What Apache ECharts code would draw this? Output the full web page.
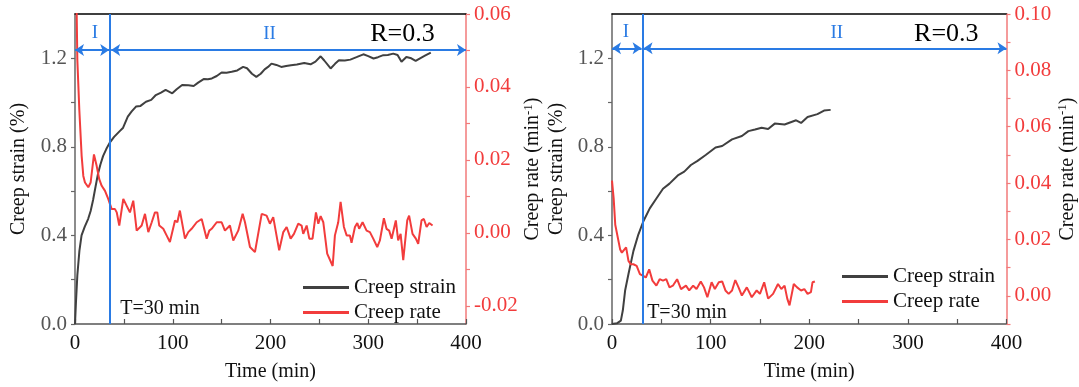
<!DOCTYPE html>
<html><head><meta charset="utf-8">
<script src="https://cdn.jsdelivr.net/npm/echarts@6/dist/echarts.min.js"></script>
<style>html,body{margin:0;padding:0;background:#fff}#c{width:1079px;height:387px}</style>
</head><body><div id="c"></div><script>
// ---------- data ----------
const xTickVals = [0, 50, 100, 150, 200, 250, 300, 350, 400];
const xLabelVals = [0, 100, 200, 300, 400];
const strainLabelVals = [0, 0.4, 0.8, 1.2];
const strainTickVals = [0, 0.2, 0.4, 0.6, 0.8, 1.0, 1.2];
const leftRateLabelVals = [-0.02, 0, 0.02, 0.04, 0.06];
const leftRateTickVals = [-0.02, -0.01, 0, 0.01, 0.02, 0.03, 0.04, 0.05, 0.06];
const rightRateLabelVals = [0, 0.02, 0.04, 0.06, 0.08, 0.10];
const rightRateTickVals = [-0.01, 0, 0.01, 0.02, 0.03, 0.04, 0.05, 0.06, 0.07, 0.08, 0.09, 0.10];

const leftStrain = [[0,0],[1,0.10],[2.4,0.22],[4.5,0.33],[6.7,0.40],[10,0.44],[13.5,0.475],[16,0.51],[18.5,0.56],[21,0.62],[23.6,0.68],[26,0.72],[28.7,0.758],[32,0.79],[35.4,0.818],[40,0.845],[45.5,0.87],[49,0.885],[54,0.937],[58,0.96],[62.4,0.982],[67,0.985],[72.6,1.004],[78,1.012],[82.7,1.034],[88,1.045],[92.7,1.057],[99.5,1.042],[104,1.06],[109.6,1.079],[116,1.078],[121.4,1.075],[126,1.09],[131.6,1.106],[136,1.105],[140,1.109],[145,1.12],[150,1.136],[155,1.135],[160.3,1.139],[166,1.145],[172,1.161],[176,1.155],[181,1.13],[185.5,1.116],[190,1.13],[194,1.15],[197.5,1.161],[201,1.176],[206,1.17],[211,1.161],[216,1.165],[221,1.169],[227,1.172],[234.5,1.179],[241,1.173],[246,1.185],[251.3,1.209],[255,1.19],[261.5,1.154],[266,1.175],[270,1.191],[276,1.19],[281.7,1.194],[288,1.205],[295,1.218],[300,1.21],[305.4,1.199],[310,1.205],[315.4,1.214],[320,1.215],[325.6,1.221],[330,1.215],[334,1.184],[339,1.206],[344,1.2],[348.5,1.188],[353,1.2],[358,1.212],[364,1.226]];

const leftRate = [[0,0.095],[1.2,0.07],[2.4,0.0474],[4.4,0.0338],[6.8,0.0211],[8.5,0.0156],[10.2,0.0138],[11.9,0.0143],[13.6,0.0125],[16,0.0138],[19.4,0.0215],[22.2,0.0183],[24.8,0.0147],[27.3,0.0129],[30.7,0.0115],[34,0.0093],[37.5,0.0065],[40.9,0.0065],[42.7,0.0056],[45.3,0.002],[49.4,0.0093],[52.9,0.0074],[56.2,0.0056],[59.6,0.0088],[63.1,0.0006],[68.2,0.002],[71.6,0.0052],[75,0.0002],[78.5,0.0029],[81.8,0.0056],[84.2,0.0056],[86.2,0.002],[90.3,0.0011],[93.7,-0.0007],[97.1,-0.0025],[102.3,0.0034],[104.7,0.0029],[107.3,0.0061],[112.5,-0.0016],[115.9,0.0002],[119.3,0.0011],[124.5,0.0029],[129.6,0.0038],[134.7,-0.0016],[137.4,0.0006],[139.8,0.0011],[145,0.0029],[150,0.0029],[153.4,0.0006],[158.5,0.002],[161.9,-0.0021],[167,0.0006],[171.5,0.0052],[173.9,0.0029],[179,-0.0039],[184.1,-0.0053],[191,0.0052],[196,0.0047],[199.4,0.0025],[202.8,0.0043],[208.9,-0.0048],[213.1,0.0002],[216.5,0.0016],[220.6,-0.0016],[224,-0.0003],[228.4,0.0025],[231.8,0.002],[233.5,-0.0003],[237,0.002],[239.7,-0.0016],[243,-0.0016],[246.5,0.0056],[248.9,0.0025],[251.3,0.0046],[254,0.0029],[258,-0.0057],[263.6,-0.0091],[265.9,-0.0007],[269.3,0.0029],[271.7,0.0085],[275.1,0.0016],[277.9,-0.0007],[281.2,-0.0007],[282.9,-0.0027],[286.4,0.0016],[288.8,0.0027],[290.7,0.0011],[294.2,0.0029],[298.3,0.0006],[301.7,0.0002],[305.1,-0.0016],[309.2,-0.0039],[311.9,-0.0021],[316,0.004],[318.7,0.0011],[321.4,0.0006],[323.9,-0.0016],[328.2,0.0034],[330.6,-0.0021],[333.1,-0.0003],[335.8,-0.0075],[337.5,-0.0075],[339.9,0.0034],[341.8,0.0047],[345.3,-0.0003],[348.7,-0.0016],[351.1,-0.003],[354.5,0.0034],[356.9,0.0038],[359.7,0.0016],[362.4,0.0027],[365.8,0.002]];

const rightStrain = [[0,0],[5,0.003],[9,0.015],[11,0.062],[13.3,0.151],[16.7,0.226],[21.7,0.329],[26.7,0.404],[31.7,0.463],[38.3,0.522],[45,0.567],[51.7,0.611],[58.3,0.634],[66.7,0.671],[73.3,0.688],[80,0.718],[86.7,0.737],[95,0.763],[105,0.797],[111.7,0.804],[121.7,0.834],[131.7,0.849],[138.3,0.871],[145,0.878],[151.7,0.886],[158.3,0.881],[165,0.905],[175,0.901],[186.7,0.92],[191.7,0.908],[198.3,0.935],[208.3,0.948],[215,0.964],[221.7,0.967]];

const rightRate = [[0,0.0409],[1.7,0.0345],[3.3,0.0252],[5,0.0246],[8.3,0.0164],[10,0.0153],[12,0.0153],[14.3,0.0172],[16.7,0.0124],[19,0.0112],[21.7,0.0112],[25,0.0106],[28.3,0.0077],[31.7,0.0071],[34.3,0.0065],[37.7,0.0094],[41,0.0054],[45,0.0036],[48.3,0.0059],[51.7,0.0054],[55,0.0059],[58.3,0.003],[61.7,0.0036],[66,0.0059],[70,0.0024],[75,0.0036],[78.3,0.0019],[82.3,0.0036],[85.7,0.0024],[90,0.0051],[93.3,0.003],[96.7,-0.0005],[101,0.0048],[104.3,0.0024],[108.3,0.0048],[111.7,0.0051],[115,0.0019],[118.3,0.0007],[121.7,0.0019],[125,0.0056],[128.3,0.003],[131.7,0.0001],[136.7,0.003],[141.7,-0.0005],[146.7,0.0019],[150,0.0007],[154.3,0.0048],[158.3,-0.001],[163.3,0.0007],[168.3,0.0042],[171.7,0.0024],[175,0.0036],[177.7,-0.001],[180,-0.0034],[184.3,0.0042],[187.7,0.003],[191.7,0.0019],[195,0.0024],[198.3,0.0007],[201.7,0.0013],[203.3,0.0048],[205.7,0.0051]];

// ---------- style ----------
const FONT = 'Liberation Serif';
const BLUE = '#2a7be4';
const RED = '#f23c3c';
const DARK = '#404040';

function xBottom(g) {
  return {
    type: 'value', gridIndex: g, min: 0, max: 400, position: 'bottom',
    axisLine: { show: true, onZero: false, lineStyle: { color: '#555', width: 1.5 } },
    axisTick: { show: true, inside: true, length: 5, customValues: xTickVals, lineStyle: { color: '#555', width: 1.2 } },
    axisLabel: { customValues: xLabelVals, color: '#111', fontFamily: FONT, fontSize: 21, margin: 9 },
    splitLine: { show: false },
    name: 'Time (min)', nameLocation: 'middle', nameGap: 38,
    nameTextStyle: { color: '#111', fontFamily: FONT, fontSize: 20 }
  };
}
function xTop(g) {
  return {
    type: 'value', gridIndex: g, min: 0, max: 400, position: 'top',
    axisLine: { show: true, onZero: false, lineStyle: { color: '#000', width: 1.5 } },
    axisTick: { show: false }, axisLabel: { show: false }, splitLine: { show: false }
  };
}
function yStrain(g, gap) {
  return {
    type: 'value', gridIndex: g, min: 0, max: 1.4, position: 'left',
    axisLine: { show: true, onZero: false, lineStyle: { color: '#666', width: 1.5 } },
    axisTick: { show: true, inside: false, length: 4, customValues: strainTickVals, lineStyle: { color: '#666', width: 1.2 } },
    axisLabel: { customValues: strainLabelVals, formatter: v => v.toFixed(1), color: '#555', fontFamily: FONT, fontSize: 21, margin: 8 },
    splitLine: { show: false },
    name: 'Creep strain (%)', nameLocation: 'middle', nameRotate: 90, nameGap: gap,
    nameTextStyle: { color: '#111', fontFamily: FONT, fontSize: 20 }
  };
}
function yRate(g, min, max, labels, ticks, gap) {
  return {
    type: 'value', gridIndex: g, min: min, max: max, position: 'right',
    axisLine: { show: true, onZero: false, lineStyle: { color: '#f27a7a', width: 1.5 } },
    axisTick: { show: true, inside: false, length: 4, customValues: ticks, lineStyle: { color: '#f27a7a', width: 1.2 } },
    axisLabel: { customValues: labels, formatter: v => v.toFixed(2), color: RED, fontFamily: FONT, fontSize: 21, margin: 8 },
    splitLine: { show: false },
    name: 'Creep rate (min{sup|-1})', nameLocation: 'middle', nameRotate: 90, nameGap: gap,
    nameTextStyle: { color: '#111', fontFamily: FONT, fontSize: 20,
      rich: { sup: { fontFamily: FONT, fontSize: 13, color: '#111', verticalAlign: 'top', padding: [0, 0, 10, 0] } } }
  };
}
function txt(name, coord, size, color) {
  return { name: name, coord: coord,
    label: { show: true, position: 'inside', formatter: '{b}', fontFamily: FONT, fontSize: size, color: color } };
}
function strainSeries(xi, yi, data, tBlue, arrowY, marks) {
  return {
    name: 'Creep strain', type: 'line', xAxisIndex: xi, yAxisIndex: yi, data: data,
    symbol: 'none', showSymbol: false, clip: true,
    lineStyle: { color: DARK, width: 2 }, itemStyle: { color: DARK },
    markLine: {
      silent: true, animation: false, symbol: ['arrow', 'arrow'], symbolSize: 9,
      lineStyle: { color: BLUE, width: 2, type: 'solid' }, label: { show: false },
      data: [
        [{ coord: [0, arrowY] }, { coord: [tBlue - 1, arrowY] }],
        [{ coord: [tBlue + 1, arrowY] }, { coord: [400, arrowY] }]
      ]
    },
    markPoint: {
      silent: true, animation: false, symbol: 'rect', symbolSize: 1,
      itemStyle: { color: 'rgba(0,0,0,0)' },
      data: marks
    }
  };
}
function rateSeries(xi, yi, data, tBlue) {
  return {
    name: 'Creep rate', type: 'line', xAxisIndex: xi, yAxisIndex: yi, data: data,
    symbol: 'none', showSymbol: false, clip: true,
    lineStyle: { color: RED, width: 2 }, itemStyle: { color: RED },
    markLine: {
      silent: true, animation: false, symbol: 'none',
      lineStyle: { color: BLUE, width: 2, type: 'solid' }, label: { show: false },
      data: [{ xAxis: tBlue }]
    }
  };
}
function legend(left, top, gap) {
  return {
    orient: 'vertical', left: left, top: top, padding: 0,
    itemWidth: 46, itemHeight: 3, itemGap: gap, icon: 'rect',
    data: ['Creep strain', 'Creep rate'], selectedMode: false,
    textStyle: { fontFamily: FONT, fontSize: 21, color: '#111' }
  };
}

const chart = echarts.init(document.getElementById('c'), null, { renderer: 'canvas' });
chart.setOption({
  animation: false,
  backgroundColor: '#fff',
  grid: [
    { left: 75, top: 14, width: 391, height: 312 },
    { left: 612, top: 14, width: 397, height: 312 }
  ],
  legend: [legend(303, 277, 4), legend(842, 266, 4)],
  xAxis: [xBottom(0), xTop(0), xBottom(1), xTop(1)],
  yAxis: [
    yStrain(0, 46),
    yRate(0, -0.025, 0.06, leftRateLabelVals, leftRateTickVals, 52),
    yStrain(1, 45),
    yRate(1, -0.01, 0.10, rightRateLabelVals, rightRateTickVals, 50)
  ],
  series: [
    strainSeries(0, 0, leftStrain, 36, 1.237, [
      txt('I', [20.4, 1.313], 19, BLUE), txt('II', [199, 1.31], 19, BLUE),
      txt('R=0.3', [335, 1.308], 26, '#000'), txt('T=30 min', [87, 0.07], 20, '#111')
    ]),
    rateSeries(0, 1, leftRate, 36),
    strainSeries(2, 2, rightStrain, 31, 1.245, [
      txt('I', [14, 1.318], 19, BLUE), txt('II', [228, 1.312], 19, BLUE),
      txt('R=0.3', [339, 1.308], 26, '#000'), txt('T=30 min', [76, 0.052], 20, '#111')
    ]),
    rateSeries(2, 3, rightRate, 31)
  ]
});
</script></body></html>
